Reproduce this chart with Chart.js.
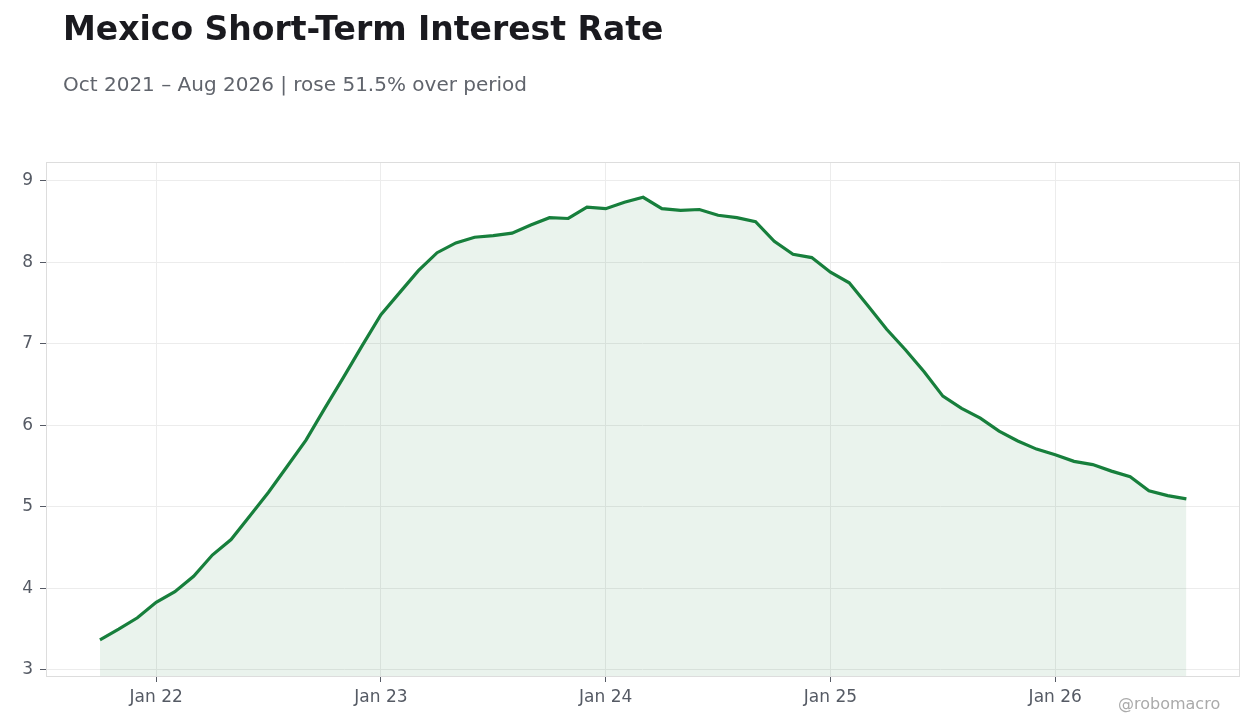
<!DOCTYPE html>
<html><head><meta charset="utf-8">
<script src="https://cdn.jsdelivr.net/npm/chart.js@4/dist/chart.umd.min.js"></script>
<style>
html,body{margin:0;padding:0;background:#fff;width:1260px;height:728px;overflow:hidden;font-family:"DejaVu Sans",sans-serif;}
#title{position:absolute;left:63px;top:9px;font-size:33px;font-weight:bold;color:#1a1a1f;white-space:nowrap;}
#sub{position:absolute;left:63px;top:72px;font-size:20px;color:#60646c;white-space:nowrap;}
#wm{position:absolute;left:1118px;top:694px;font-size:16px;color:#aaaaaa;white-space:nowrap;}
#wrap{position:absolute;left:0;top:0;width:1260px;height:728px;}
</style></head><body>
<div id="wrap"><canvas id="c" width="1260" height="728"></canvas></div>
<div id="title">Mexico Short-Term Interest Rate</div>
<div id="sub">Oct 2021 – Aug 2026 | rose 51.5% over period</div>
<div id="wm">@robomacro</div>
<script>
// Monthly, Oct 2021 .. Aug 2026
const months = ["Oct 21","Nov 21","Dec 21","Jan 22","Feb 22","Mar 22","Apr 22","May 22","Jun 22","Jul 22","Aug 22","Sep 22",
"Oct 22","Nov 22","Dec 22","Jan 23","Feb 23","Mar 23","Apr 23","May 23","Jun 23","Jul 23","Aug 23","Sep 23",
"Oct 23","Nov 23","Dec 23","Jan 24","Feb 24","Mar 24","Apr 24","May 24","Jun 24","Jul 24","Aug 24","Sep 24",
"Oct 24","Nov 24","Dec 24","Jan 25","Feb 25","Mar 25","Apr 25","May 25","Jun 25","Jul 25","Aug 25","Sep 25",
"Oct 25","Nov 25","Dec 25","Jan 26","Feb 26","Mar 26","Apr 26","May 26","Jun 26","Jul 26","Aug 26"];
const rates = [3.37,3.50,3.64,3.83,3.96,4.15,4.41,4.60,4.89,5.18,5.50,5.82,
6.21,6.59,6.98,7.36,7.63,7.90,8.12,8.24,8.31,8.33,8.36,8.46,
8.55,8.54,8.68,8.66,8.74,8.80,8.66,8.64,8.65,8.58,8.55,8.50,
8.26,8.10,8.06,7.88,7.75,7.47,7.18,6.93,6.66,6.36,6.21,6.09,
5.93,5.81,5.71,5.64,5.56,5.52,5.44,5.37,5.20,5.14,5.10];
const yTicks = [3,4,5,6,7,8,9];
const xTickIdx = [3,15,27,39,51];
const xTickLabels = ["Jan 22","Jan 23","Jan 24","Jan 25","Jan 26"];

const points = rates.map((v,i)=>({x:i,y:v}));

const borderPlugin = {
  id:'frame',
  afterDraw(chart){
    const a = chart.chartArea, ctx = chart.ctx;
    ctx.save();
    ctx.strokeStyle = '#dddddd';
    ctx.lineWidth = 1;
    ctx.strokeRect(Math.round(a.left)+0.5, Math.round(a.top)+0.5, Math.round(a.right-a.left), Math.round(a.bottom-a.top));
    ctx.restore();
  }
};

new Chart(document.getElementById('c'), {
  type:'line',
  data:{datasets:[{
    data:points,
    borderColor:'#177f3c',
    backgroundColor:'rgba(23,127,60,0.09)',
    borderWidth:3.2,
    fill:'start',
    pointRadius:0,
    tension:0
  }]},
  options:{
    responsive:false,
    animation:false,
    devicePixelRatio:1,
    layout:{padding:{left:0,top:162,right:21,bottom:0}},
    plugins:{legend:{display:false},tooltip:{enabled:false}},
    scales:{
      x:{
        type:'linear',
        min:-2.88, max:60.81,
        afterBuildTicks(s){ s.ticks = xTickIdx.map(v=>({value:v})); },
        afterFit(s){ s.height = 52; },
        ticks:{
          callback:(v)=>{ const k = xTickIdx.indexOf(v); return k>=0 ? xTickLabels[k] : ''; },
          font:{family:'DejaVu Sans',size:17},
          color:'#555a64',
          padding:5,
          maxRotation:0
        },
        grid:{color:'#ececec',tickColor:'#555a64',tickLength:6,drawTicks:true},
        border:{display:false}
      },
      y:{
        min:2.926, max:9.233,
        afterBuildTicks(s){ s.ticks = yTicks.map(v=>({value:v})); },
        afterFit(s){ s.width = 46; },
        ticks:{
          font:{family:'DejaVu Sans',size:17},
          color:'#555a64',
          padding:7
        },
        grid:{color:'#ececec',tickColor:'#555a64',tickLength:6,drawTicks:true},
        border:{display:false}
      }
    }
  },
  plugins:[borderPlugin]
});
</script>
</body></html>
